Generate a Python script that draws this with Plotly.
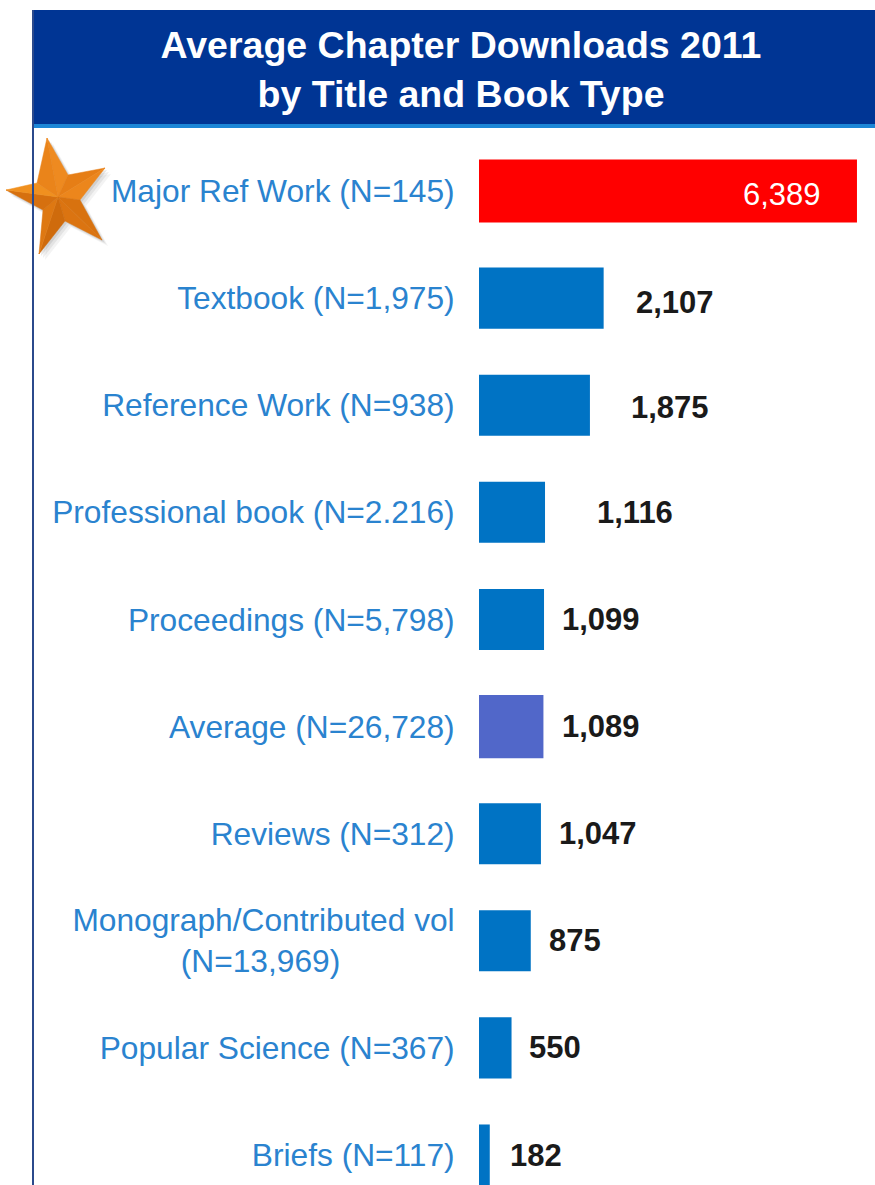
import plotly.graph_objects as go

W, H = 875, 1185
L, T = 479, 127

categories = ["Major Ref Work (N=145)", "Textbook (N=1,975)", "Reference Work (N=938)",
              "Professional book (N=2.216)", "Proceedings (N=5,798)", "Average (N=26,728)",
              "Reviews (N=312)", "Monograph/Contributed vol<br>(N=13,969)" + "\u00a0" * 13,
              "Popular Science (N=367)", "Briefs (N=117)"]
values = [6389, 2107, 1875, 1116, 1099, 1089, 1047, 875, 550, 182]
value_labels = ["6,389", "2,107", "1,875", "1,116", "1,099", "1,089", "1,047", "875", "550", "182"]
bar_colors = ["#FF0000"] + ["#0073C4"] * 4 + ["#5167C9"] + ["#0073C4"] * 4
bar_widths = [0.59] + [0.57] * 4 + [0.59] + [0.57] * 4
label_gaps = [-116, 30, 39, 50, 16, 17, 16, 16, 15, 18]
label_lifts = [-3, -4, -2, 0, 0, 0, 0, 0, 0, 0]

TITLE = "Average Chapter Downloads 2011<br>by Title and Book Type"


def px(x):
    return (x - L) / (W - L)


def py(y):
    return 1 - (y - T) / (H - T)


def poly(points, dx=0, dy=0):
    return "M " + " L ".join(f"{px(x + dx):.5f},{py(y + dy):.5f}" for x, y in points) + " Z"


tips = [(47, 138), (105, 168), (102, 240), (39, 254), (6, 190)]
inner = [(68, 175), (80, 200), (65, 221), (43, 210), (37, 183)]
centre = (58, 197)
outline = [p for pair in zip(tips, inner) for p in pair]
facets = ["#EE8A20", "#E67E16", "#EC861C", "#D8720F", "#DB7411",
          "#CF6B0C", "#DE7812", "#D6700F", "#F0901F", "#EA841A"]

shapes = [
    dict(type="rect", xref="paper", yref="paper", x0=px(33), x1=px(875), y0=py(10), y1=py(124),
         fillcolor="#003594", line_width=0, layer="below"),
    dict(type="rect", xref="paper", yref="paper", x0=px(33), x1=px(875), y0=py(124), y1=py(128),
         fillcolor="#1C86D6", line_width=0, layer="below"),
]
for off, op in ((6, 0.07), (4, 0.10), (2, 0.14)):
    shapes.append(dict(type="path", xref="paper", yref="paper", path=poly(outline, off, off),
                       fillcolor="#555555", opacity=op, line_width=0))
for i in range(10):
    a, b = outline[i], outline[(i + 1) % 10]
    shapes.append(dict(type="path", xref="paper", yref="paper", path=poly([centre, a, b]),
                       fillcolor=facets[i], line=dict(color=facets[i], width=0.5)))
shapes.append(dict(type="line", xref="paper", yref="paper", x0=px(33), x1=px(33), y0=py(10), y1=py(1185),
                   line=dict(color="#2B4A8C", width=2)))

annotations = []
for cat, val, lab, gap, lift, col in zip(categories, values, value_labels, label_gaps, label_lifts, bar_colors):
    inside = col == "#FF0000"
    annotations.append(dict(x=val, y=cat, text=lab, xref="x", yref="y", showarrow=False,
                            xanchor="left", xshift=gap, yshift=lift,
                            font=dict(family="Liberation Sans", size=31,
                                      color="#FFFFFF" if inside else "#1A1A1A",
                                      weight="normal" if inside else "bold")))

fig = go.Figure(go.Bar(x=values, y=categories, orientation="h", marker=dict(color=bar_colors, line_width=0),
                       width=bar_widths, hoverinfo="skip"))
fig.update_layout(
    width=W, height=H, margin=dict(l=L, r=0, t=T, b=0, pad=0), autosize=False,
    paper_bgcolor="#FFFFFF", plot_bgcolor="#FFFFFF", showlegend=False,
    title=dict(text=TITLE, x=461 / W, xanchor="center", xref="container",
               y=1 - 58 / H, yanchor="middle",
               font=dict(family="Liberation Sans", size=37.5, color="#FFFFFF", weight="bold")),
    shapes=shapes, annotations=annotations,
)
fig.update_xaxes(visible=False, range=[0, (W - L) / 0.05916], fixedrange=True)
fig.update_yaxes(type="category", categoryorder="array", categoryarray=categories,
                 range=[9.28, -0.5976], showgrid=False, zeroline=False, showline=False,
                 ticks="outside", ticklen=17, tickcolor="rgba(255,255,255,0)",
                 tickfont=dict(family="Liberation Sans", size=31.7, color="#2A83CF"), fixedrange=True)
fig.write_html("out.html", post_script="document.body.style.margin='0';document.body.style.overflow='hidden';",
               config=dict(displayModeBar=False))
